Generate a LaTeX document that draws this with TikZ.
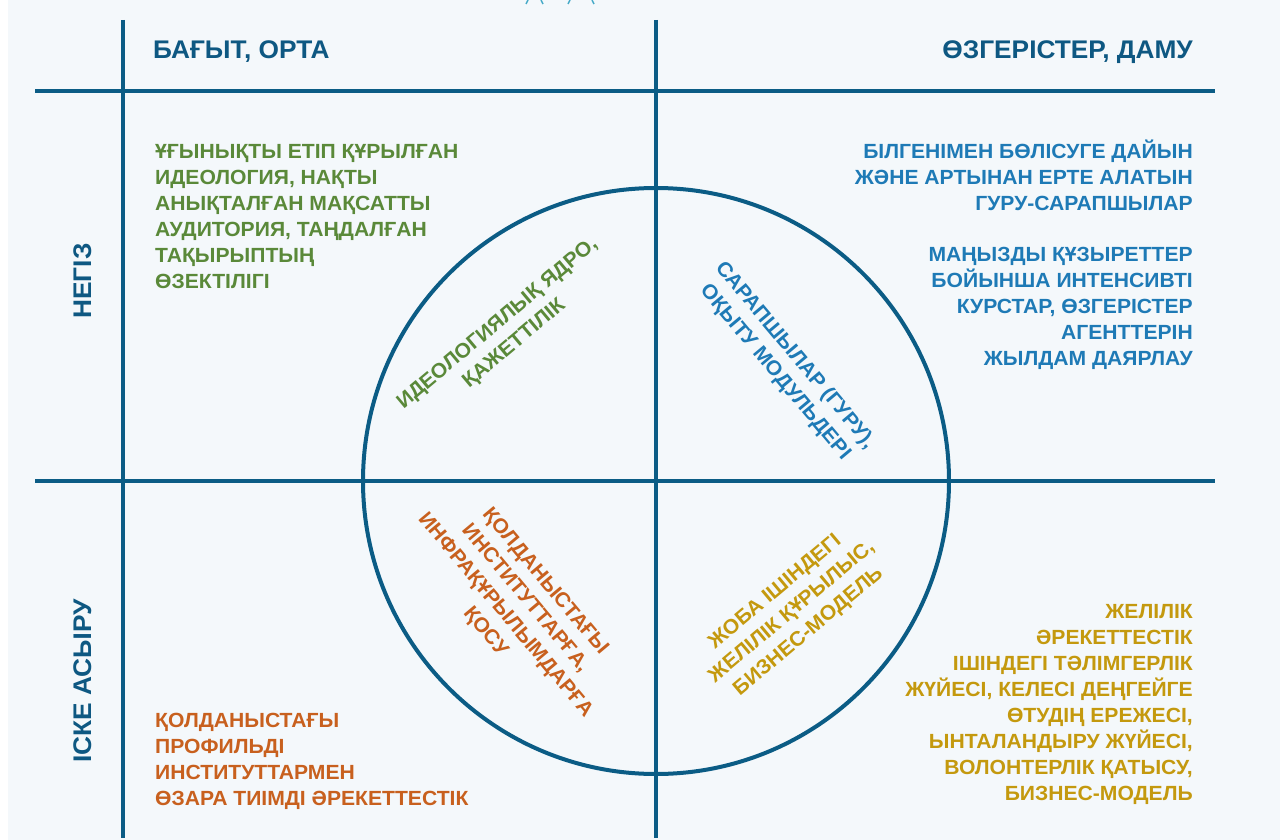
\documentclass[tikz,border=0pt]{standalone}
\usepackage{fontspec}
\setmainfont{Liberation Sans}
\newfontfamily\bodyfont[FakeStretch=1.03]{Liberation Sans}
\newfontfamily\headfont[FakeStretch=1.03]{Liberation Sans}
\definecolor{panel}{RGB}{244,248,251}
\definecolor{lineblue}{RGB}{11,92,133}
\definecolor{headblue}{RGB}{14,88,130}
\definecolor{tgreen}{RGB}{90,137,57}
\definecolor{tblue}{RGB}{30,122,182}
\definecolor{torange}{RGB}{200,96,30}
\definecolor{tgold}{RGB}{196,153,14}
\definecolor{tteal}{RGB}{70,170,200}
\begin{document}
\begin{tikzpicture}[x=1pt,y=-1pt,
  grid/.style={draw=lineblue, line width=4pt},
  body/.style={font=\bodyfont\bfseries\fontsize{20.5}{26}\selectfont, inner sep=0pt},
  head/.style={font=\headfont\bfseries\fontsize{25.5}{30}\selectfont, text=headblue, inner sep=0pt},
  topmark/.style={draw=tteal, line width=1.5pt}
]
\useasboundingbox (0,0) rectangle (1280,840);
\fill[white] (0,0) rectangle (1280,840);
\fill[panel] (8,0) rectangle (1280,840);
% cut-off marks at top
\coordinate (m1a) at (526,4); \coordinate (m1b) at (528,0);
\coordinate (m2a) at (541,0); \coordinate (m2b) at (543,4);
\coordinate (m3a) at (568,4); \coordinate (m3b) at (570,0);
\coordinate (m4a) at (592,0); \coordinate (m4b) at (594,4);
\draw[topmark] (m1a) -- (m1b); \draw[topmark] (m2a) -- (m2b);
\draw[topmark] (m3a) -- (m3b); \draw[topmark] (m4a) -- (m4b);
% grid
\coordinate (c) at (656,481);
\coordinate (v1t) at (123,20); \coordinate (v1b) at (123,838);
\coordinate (v2t) at (656,20); \coordinate (v2b) at (656,838);
\coordinate (h1l) at (35,91); \coordinate (h1r) at (1215,91);
\coordinate (h2l) at (35,481); \coordinate (h2r) at (1215,481);
\draw[grid] (v1t) -- (v1b);
\draw[grid] (v2t) -- (v2b);
\draw[grid] (h1l) -- (h1r);
\draw[grid] (h2l) -- (h2r);
\node[grid, circle, minimum size=586pt, inner sep=0pt] (ring) at (c) {};
% headers
\node[head, anchor=base west] (hd1) at (153,59) {БАҒЫТ, ОРТА};
\node[head, anchor=base east] (hd2) at (1193,59) {ӨЗГЕРІСТЕР, ДАМУ};
\node[head, rotate=90, anchor=base] (sd1) at (91,281) {НЕГІЗ};
\node[head, rotate=90, anchor=base] (sd2) at (91,681) {ІСКЕ АСЫРУ};
% quadrant texts
\node[body, text=tgreen, align=left, anchor=north west] (tl) at (155,144)
 {ҰҒЫНЫҚТЫ ЕТІП ҚҰРЫЛҒАН\\ИДЕОЛОГИЯ, НАҚТЫ\\АНЫҚТАЛҒАН МАҚСАТТЫ\\АУДИТОРИЯ, ТАҢДАЛҒАН\\ТАҚЫРЫПТЫҢ\\ӨЗЕКТІЛІГІ};
\node[body, text=tblue, align=right, anchor=north east] (tr) at (1193,140)
 {БІЛГЕНІМЕН БӨЛІСУГЕ ДАЙЫН\\ЖӘНЕ АРТЫНАН ЕРТЕ АЛАТЫН\\ГУРУ-САРАПШЫЛАР\\[25pt]МАҢЫЗДЫ ҚҰЗЫРЕТТЕР\\БОЙЫНША ИНТЕНСИВТІ\\КУРСТАР, ӨЗГЕРІСТЕР\\АГЕНТТЕРІН\\ЖЫЛДАМ ДАЯРЛАУ};
\node[body, text=tgold, align=right, anchor=north east] (br) at (1193,604)
 {ЖЕЛІЛІК\\ӘРЕКЕТТЕСТІК\\ІШІНДЕГІ ТӘЛІМГЕРЛІК\\ЖҮЙЕСІ, КЕЛЕСІ ДЕҢГЕЙГЕ\\ӨТУДІҢ ЕРЕЖЕСІ,\\ЫНТАЛАНДЫРУ ЖҮЙЕСІ,\\ВОЛОНТЕРЛІК ҚАТЫСУ,\\БИЗНЕС-МОДЕЛЬ};
\node[body, text=torange, align=left, anchor=north west] (bl) at (155,713)
 {ҚОЛДАНЫСТАҒЫ\\ПРОФИЛЬДІ\\ИНСТИТУТТАРМЕН\\ӨЗАРА ТИІМДІ ӘРЕКЕТТЕСТІК};
% rotated texts inside circle
\node[body, text=tgreen, align=center, rotate=40] (q1) at (506,334)
 {ИДЕОЛОГИЯЛЫҚ ЯДРО,\\ҚАЖЕТТІЛІК};
\node[body, text=tblue, align=center, rotate=-50] (q2) at (785,364)
 {САРАПШЫЛАР (ГУРУ),\\ОҚЫТУ МОДУЛЬДЕРІ};
\node[body, text=torange, align=center, rotate=-50] (q3) at (515,607)
 {ҚОЛДАНЫСТАҒЫ\\ИНСТИТУТТАРҒА,\\ИНФРАҚҰРЫЛЫМДАРҒА\\ҚОСУ};
\node[body, text=tgold, align=center, rotate=40] (q4) at (792,612)
 {ЖОБА ІШІНДЕГІ\\ЖЕЛІЛІК ҚҰРЫЛЫС,\\БИЗНЕС-МОДЕЛЬ};
\end{tikzpicture}
\end{document}
